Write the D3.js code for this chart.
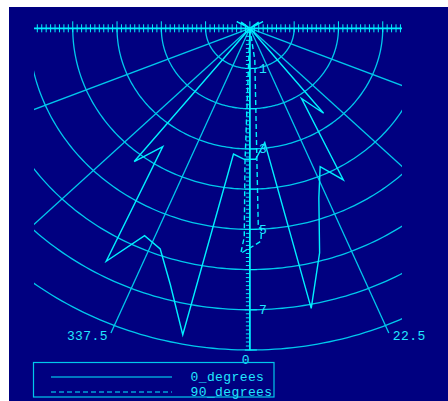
<!DOCTYPE html>
<html><head><meta charset="utf-8">
<script src="https://cdn.jsdelivr.net/npm/d3@7"></script>
<style>
html,body{margin:0;padding:0;background:#fff;}
svg{display:block;}
text{font-family:"Liberation Mono","DejaVu Sans Mono",monospace;font-size:13px;fill:#20e8ff;letter-spacing:0.4px;}
</style></head><body>
<svg id="c" width="448" height="401"></svg>
<script>
// ---- data ----
const seriesNames = ["0_degrees", "90_degrees"];
// series 1 (solid): angle in degrees (0 = down, positive = right), radius
const solidAngles = [42.75, 38.25, 33.75, 29.25, 24.75, 20.25, 15.75, 11.25, 6.75, 2.25,
  -2.25, -6.75, -11.25, -15.75, -20.25, -24.75, -29.25, -33.75, -38.25, -42.75,
  -114.75, -119.25, -123.75, -128.25, 180, 128.25, 123.75, 119.25, 114.75];
const solidRadii = [0, 2.69, 2.10, 4.32, 3.79, 4.50, 5.80, 7.10, 2.86, 3.26,
  3.26, 3.15, 7.77, 6.62, 5.85, 5.68, 6.64, 3.54, 4.22, 0,
  0.05, 0.34, 0.10, 0.25, 0, 0.25, 0.10, 0.34, 0.05];
// series 2 (dashed)
const dashAngles = [0, 8.0, 2.2, 3.0, 2.7, 0.7, -2.1, -1.4, -1.9, 0];
const dashRadii  = [0, 0.80, 4.95, 5.00, 5.30, 5.42, 5.60, 5.19, 3.35, 0];
// grid
const ringValues = [1, 2, 3, 4, 5, 6, 7, 8];
const ringLabelValues = [1, 3, 5, 7];
const spokeAngles = [-67.5, -45, -22.5, 22.5, 45, 67.5];
const angleLabelAngles = [-22.5, 0, 22.5];
const angleLabelTexts = ["337.5", "0", "22.5"];

// ---- drawing ----
const svg = d3.select("#c");
const C = "#00f0ff";
const GC = "#00c8ec";
const x = d3.scaleLinear().domain([-4.875, 3.435]).range([34, 402]);
const y = d3.scaleLinear().domain([0, 8]).range([28.3, 350]);
const rad = a => a * Math.PI / 180;
const px = (a, r) => x(r * Math.sin(rad(a)));
const py = (a, r) => y(r * Math.cos(rad(a)));

svg.append("rect").attr("x", 9).attr("y", 7).attr("width", 439).attr("height", 394).attr("fill", "#000080");

svg.append("defs").append("clipPath").attr("id", "clip")
  .append("rect").attr("x", x.range()[0]).attr("y", 0)
  .attr("width", x.range()[1] - x.range()[0]).attr("height", 401);

const g = svg.append("g").attr("clip-path", "url(#clip)");

// rings
const arcAngles = d3.range(-90, 90.5, 1);
const ringLine = r => d3.line().x(a => px(a, r)).y(a => py(a, r))(arcAngles);
g.selectAll("path.ring").data(ringValues).join("path").attr("class", "ring")
  .attr("d", d => ringLine(d)).attr("fill", "none").attr("stroke", GC).attr("stroke-width", 1.3);

// spokes
const rMax = 8.2;
g.selectAll("line.spoke").data(spokeAngles).join("line")
  .attr("x1", x(0)).attr("y1", y(0))
  .attr("x2", d => px(d, rMax)).attr("y2", d => py(d, rMax))
  .attr("stroke", GC).attr("stroke-width", 1.3);

// top horizontal axis with ticks
g.append("line").attr("x1", x.range()[0]).attr("x2", x.range()[1]).attr("y1", y(0)).attr("y2", y(0))
  .attr("stroke", C).attr("stroke-width", 1.8);
const topTicks = d3.range(Math.ceil(x.domain()[0] * 10), Math.floor(x.domain()[1] * 10) + 1);
g.selectAll("line.tt").data(topTicks).join("line")
  .attr("x1", d => x(d / 10)).attr("x2", d => x(d / 10))
  .attr("y1", d => d % 10 === 0 ? y(0) - 7 : y(0) - 4).attr("y2", y(0) + 4)
  .attr("stroke", C).attr("stroke-width", 1);

// vertical radial axis
svg.append("line").attr("x1", x(0)).attr("x2", x(0)).attr("y1", y(0)).attr("y2", y(8))
  .attr("stroke", C).attr("stroke-width", 1.8);
const vTicks = d3.range(1, 81);
svg.selectAll("line.vt").data(vTicks).join("line")
  .attr("x1", d => d % 10 === 0 ? x(0) - 5 : x(0) - 4)
  .attr("x2", d => d % 10 === 0 ? x(0) + 7 : x(0))
  .attr("y1", d => y(d / 10)).attr("y2", d => y(d / 10))
  .attr("stroke", C).attr("stroke-width", 1);
svg.selectAll("text.rl").data(ringLabelValues).join("text")
  .attr("x", x(0) + 9).attr("y", d => y(d) + 1).attr("dominant-baseline", "middle")
  .text(d => d);

// angle labels
svg.selectAll("text.al").data(angleLabelAngles).join("text")
  .attr("x", (d, i) => d < 0 ? px(d, rMax) - 3 : d > 0 ? px(d, rMax) + 4 : px(d, rMax) - 4)
  .attr("y", (d, i) => d === 0 ? py(d, 8) + 11 : py(d, rMax) + 4)
  .attr("text-anchor", d => d < 0 ? "end" : d > 0 ? "start" : "middle")
  .attr("dominant-baseline", "middle")
  .text((d, i) => angleLabelTexts[i]);

// data series
const solidPts = solidAngles.map((a, i) => [px(a, solidRadii[i]), py(a, solidRadii[i])]);
const dashPts = dashAngles.map((a, i) => [px(a, dashRadii[i]), py(a, dashRadii[i])]);
g.append("path").attr("d", d3.line().curve(d3.curveLinearClosed)(solidPts))
  .attr("fill", "none").attr("stroke", C).attr("stroke-width", 1.4).attr("stroke-linejoin", "miter");
g.append("path").attr("d", d3.line()(dashPts))
  .attr("fill", "none").attr("stroke", C).attr("stroke-width", 1.4).attr("stroke-dasharray", "5,3");

// legend
const lg = svg.append("g");
lg.append("rect").attr("x", 33.5).attr("y", 362.5).attr("width", 240.5).attr("height", 34.5)
  .attr("fill", "none").attr("stroke", GC).attr("stroke-width", 1.2);
const legY = [377, 392];
const legDash = [null, "5,3"];
seriesNames.forEach((n, i) => {
  lg.append("line").attr("x1", 51).attr("x2", 172).attr("y1", legY[i]).attr("y2", legY[i])
    .attr("stroke", C).attr("stroke-width", 1.2).attr("stroke-dasharray", legDash[i]);
  lg.append("text").attr("x", 190.5).attr("y", legY[i] + 1).attr("dominant-baseline", "middle").text(n);
});
</script>
</body></html>
